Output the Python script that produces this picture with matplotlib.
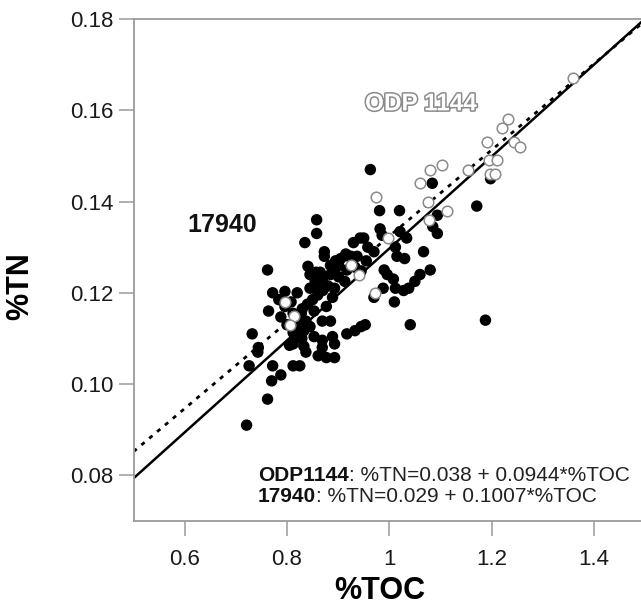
import matplotlib.pyplot as plt
import matplotlib.patheffects as pe
from matplotlib.ticker import FixedLocator, FuncFormatter

plt.rcParams['font.family'] = ['Liberation Sans', 'DejaVu Sans']

# core 17940 (filled circles): %TOC, %TN
toc_17940 = [0.963, 1.084, 1.198, 1.171, 1.188, 1.041,
             0.981, 1.020, 1.094, 1.085, 1.094, 0.982, 0.986, 1.021, 1.034, 1.067,
             1.080, 1.060, 1.050, 1.038, 1.028, 1.012, 1.010, 1.015, 1.012, 1.030,
             0.990, 0.996, 1.008, 0.988, 0.970, 0.943, 0.950, 0.958, 0.970, 0.937,
             0.955, 0.921, 0.917, 0.901, 0.893, 0.885, 0.869, 0.857, 0.873, 0.873,
             0.845, 0.841, 0.845, 0.861, 0.893, 0.889, 0.877, 0.858, 0.858, 0.835,
             0.762, 0.820, 0.808, 0.772, 0.784, 0.796, 0.764, 0.788, 0.812, 0.828,
             0.853, 0.837, 0.825, 0.845, 0.869, 0.885, 0.833, 0.812, 0.853, 0.829,
             0.833, 0.812, 0.869, 0.889, 0.893, 0.869, 0.861, 0.877, 0.893, 0.837,
             0.812, 0.825, 0.732, 0.744, 0.743, 0.726, 0.772, 0.788, 0.770, 0.762,
             0.721, 0.917, 0.933, 0.945, 0.953, 0.933, 0.945, 0.901, 0.913, 0.796,
             0.800, 0.840, 0.850, 0.860, 0.870, 0.880, 0.905, 0.915, 0.925, 0.930,
             0.895, 0.885, 0.865, 0.855, 0.830, 0.815, 0.805]
tn_17940 = [0.147, 0.144, 0.145, 0.139, 0.114, 0.113,
            0.138, 0.138, 0.137, 0.1345, 0.133, 0.134, 0.1326, 0.1334, 0.132, 0.129,
            0.125, 0.124, 0.1225, 0.121, 0.1205, 0.121, 0.118, 0.128, 0.130, 0.1275,
            0.125, 0.124, 0.123, 0.121, 0.119, 0.132, 0.132, 0.130, 0.129, 0.128,
            0.127, 0.128, 0.125, 0.126, 0.125, 0.124, 0.123, 0.1245, 0.129, 0.128,
            0.124, 0.1258, 0.121, 0.121, 0.121, 0.119, 0.117, 0.136, 0.133, 0.131,
            0.125, 0.120, 0.118, 0.120, 0.1185, 0.117, 0.116, 0.1147, 0.1155, 0.1155,
            0.116, 0.1138, 0.113, 0.1126, 0.1138, 0.1138, 0.1117, 0.1113, 0.1104, 0.110,
            0.1083, 0.1088, 0.1096, 0.1104, 0.1088, 0.108, 0.1062, 0.1058, 0.1058, 0.107,
            0.104, 0.104, 0.111, 0.108, 0.107, 0.104, 0.104, 0.102, 0.1007, 0.0967,
            0.091, 0.111, 0.1117, 0.1126, 0.113, 0.1256, 0.1248, 0.1235, 0.1225, 0.1203,
            0.113, 0.1175, 0.1185, 0.1195, 0.1205, 0.1215, 0.1275, 0.1285, 0.128, 0.131,
            0.127, 0.126, 0.1245, 0.1225, 0.1165, 0.1105, 0.1085]

# ODP 1144 (open circles)
toc_1144 = [1.360, 1.233, 1.221, 1.192, 1.243, 1.256, 1.194, 1.210, 1.197, 1.207,
            1.153, 1.103, 1.080, 1.060, 1.075, 1.112, 1.078, 0.974, 0.998, 0.925,
            0.941, 0.972, 0.796, 0.814, 0.806]
tn_1144 = [0.167, 0.158, 0.156, 0.153, 0.153, 0.152, 0.149, 0.149, 0.146, 0.146,
           0.147, 0.148, 0.147, 0.144, 0.140, 0.138, 0.136, 0.141, 0.132, 0.126,
           0.124, 0.120, 0.118, 0.115, 0.113]

# regressions: intercept, slope
fit_1144 = (0.038, 0.0944)
fit_17940 = (0.029, 0.1007)
x_fit = [0.5, 1.5]

x_ticks = [0.6, 0.8, 1.0, 1.2, 1.4]
y_ticks = [0.08, 0.10, 0.12, 0.14, 0.16, 0.18]

fig = plt.figure(figsize=(6.41, 6.06), dpi=100)
ax = fig.add_axes([0.2083, 0.1403, 0.798, 0.8284])

ax.plot(x_fit, [fit_17940[0] + fit_17940[1] * x for x in x_fit],
        color='black', lw=1.8, zorder=1)
ax.plot(x_fit, [fit_1144[0] + fit_1144[1] * x for x in x_fit],
        color='black', lw=2, linestyle=(0, (1.5, 2.2)), zorder=1)

ax.scatter(toc_17940, tn_17940, s=68, color='black', edgecolors='none', zorder=2)
ax.scatter(toc_1144, tn_1144, s=58, facecolors='white', edgecolors='#8a8a8a',
           linewidths=1.1, zorder=3)

ax.set_xlim(0.5, 1.5)
ax.set_ylim(0.07, 0.18)
ax.xaxis.set_major_locator(FixedLocator(x_ticks))
ax.yaxis.set_major_locator(FixedLocator(y_ticks))
ax.xaxis.set_major_formatter(FuncFormatter(lambda v, p: '%g' % v))
ax.yaxis.set_major_formatter(FuncFormatter(lambda v, p: '%.2f' % v))

for s in ax.spines.values():
    s.set_color('#9a9a9a')
    s.set_linewidth(1.3)
ax.tick_params(axis='both', colors='#9a9a9a', labelcolor='#1a1a1a',
               labelsize=16, length=11, width=1.1)
ax.tick_params(axis='x', pad=9)
ax.tick_params(axis='y', pad=3.5)

ax.set_xlabel('%TOC', fontsize=22, fontweight='bold', va='center')
ax.set_ylabel('%TN', fontsize=22, fontweight='bold', va='center')
ax.xaxis.set_label_coords(0.482, -0.139)
ax.yaxis.set_label_coords(-0.222, 0.468)

ax.text(0.6046, 0.1348, '17940', fontsize=18, fontweight='bold',
        ha='left', va='center', color='#111111')
ax.text(0.9526, 0.1614, 'ODP 1144', fontsize=17.5, fontweight='bold',
        ha='left', va='center', color='white',
        path_effects=[pe.withStroke(linewidth=2.2, foreground='#8a8a8a')])

t1 = ax.text(0.7434, 0.0800, 'ODP1144', fontsize=15, fontweight='bold',
             ha='left', va='center', color='#111111')
ax.annotate(': %TN=0.038 + 0.0944*%TOC', xy=(1, 0.5), xycoords=t1,
            ha='left', va='center', fontsize=15, color='#222222')
t2 = ax.text(0.7434, 0.0753, '17940', fontsize=15, fontweight='bold',
             ha='left', va='center', color='#111111')
ax.annotate(': %TN=0.029 + 0.1007*%TOC', xy=(1, 0.5), xycoords=t2,
            ha='left', va='center', fontsize=15, color='#222222')

fig.savefig('out.png', dpi=100)
